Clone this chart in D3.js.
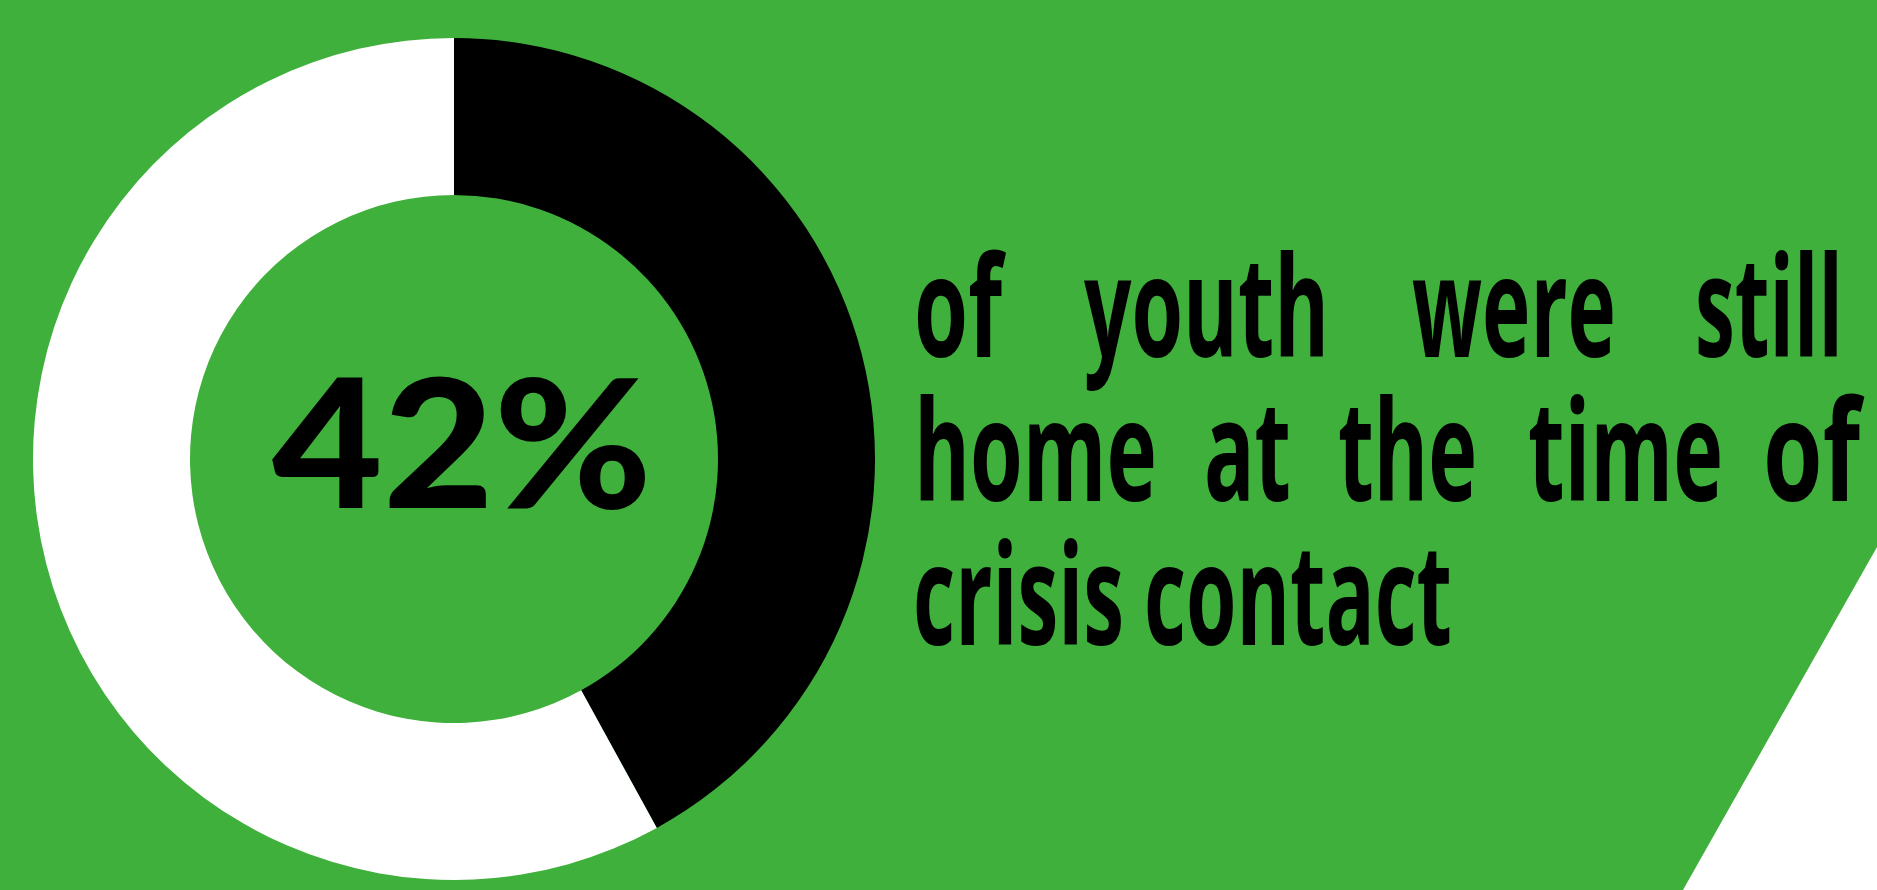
<!DOCTYPE html>
<html>
<head>
<meta charset="utf-8">
<script src="https://cdn.jsdelivr.net/npm/d3@7"></script>
<style>
  html, body { margin: 0; padding: 0; background: #40b03c; overflow: hidden; }
  svg { display: block; }
</style>
</head>
<body>
<svg id="chart" width="1877" height="890"></svg>
<script>
// ---- data ----
const categories = ["Still home at time of crisis contact", "Not at home"];
const values = [42, 58];
const centerLabel = "42%";
const captionLines = [
  ["of", "youth", "were", "still"],
  ["home", "at", "the", "time", "of"],
  ["crisis", "contact"]
];

// ---- layout / style (not data) ----
const W = 1877, H = 890;
const bg = "#40b03c";
const sliceColors = ["#000000", "#ffffff"];
const cx = 454, cy = 459, rOuter = 421, rInner = 264;
const lineBaselines = [357, 501, 645];
// ink extents of each caption word, per line
const wordSpans = [
  [[918, 998], [1088, 1325], [1416, 1612], [1699, 1839]],
  [[918, 1153], [1208, 1287], [1342, 1473], [1532, 1719], [1767, 1856]],
  [[917, 1120], [1148, 1448]]
];

const svg = d3.select("#chart");
svg.append("rect").attr("width", W).attr("height", H).attr("fill", bg);

// white corner triangle
svg.append("path")
  .attr("d", d3.line()([[1683, H], [W, 547], [W, H]]) + "Z")
  .attr("fill", "#ffffff");

// donut
const pie = d3.pie().sort(null).value(d => d)(values);
const arc = d3.arc().innerRadius(rInner).outerRadius(rOuter);
const g = svg.append("g").attr("transform", `translate(${cx},${cy})`);
g.selectAll("path.slice").data(pie).join("path")
  .attr("class", "slice")
  .attr("d", arc)
  .attr("fill", (d, i) => sliceColors[i]);

// helper: place text so that its advance box spans [x0, x1] using a horizontal scale
function fitText(parent, str, x0, x1, baseline, font, weight, size) {
  const t = parent.append("text")
    .attr("font-family", font)
    .attr("font-weight", weight)
    .attr("font-size", size)
    .attr("fill", "#000")
    .text(str);
  const L = t.node().getComputedTextLength();
  const s = (x1 - x0) / L;
  t.attr("transform", `translate(${x0},${baseline}) scale(${s},1)`);
  return t;
}

// center label (Gotham-like bold)
fitText(svg, centerLabel, 272, 652, 508, "Lato, Roboto, sans-serif", 900, 180);

// caption words
const pad = 4;
captionLines.forEach((words, li) => {
  words.forEach((w, wi) => {
    const [x0, x1] = wordSpans[li][wi];
    fitText(svg, w, x0 - pad, x1 + pad, lineBaselines[li],
      "'Open Sans', 'Noto Sans', sans-serif", 700, 140);
  });
});
</script>
</body>
</html>
